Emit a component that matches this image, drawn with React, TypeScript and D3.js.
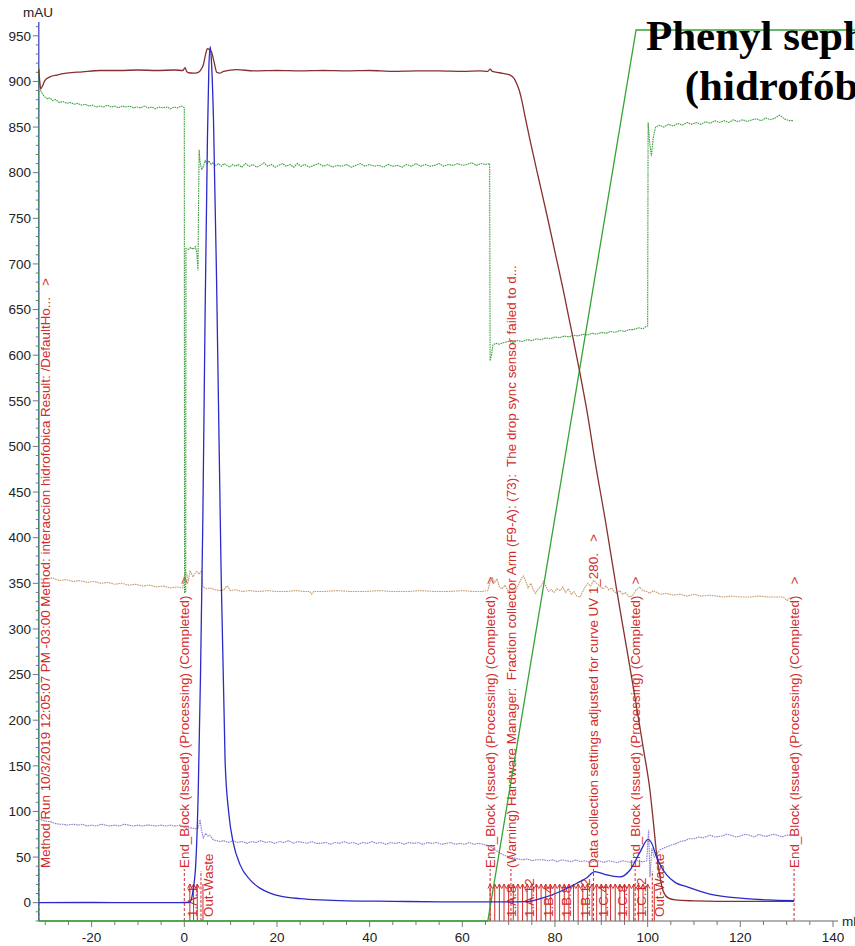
import React from 'react';
import * as d3 from 'd3';

type Pt = [number, number];

// Axis labels
const X_TICK_LABELS = [-20, 0, 20, 40, 60, 80, 100, 120, 140];
const Y_TICK_LABELS = [0, 50, 100, 150, 200, 250, 300, 350, 400, 450, 500, 550, 600, 650, 700, 750, 800, 850, 900, 950];

// UV 1_280 absorbance (mAU)
const uvCurve: Pt[] = [
  [-31.4, 0], [-20, 0.2], [-10, 0.1], [0, 0.2], [1.2, 0.4], [1.9, 14], [2.5, 45], [3.0, 120], [3.5, 250],
  [4.0, 420], [4.5, 650], [5.0, 840], [5.3, 915], [5.6, 938], [5.9, 918], [6.3, 858], [7.0, 671], [7.9, 376],
  [8.8, 156], [9.6, 98], [10.6, 65], [12, 42], [14.2, 25], [16.3, 16], [18.5, 10.6], [21, 7], [25, 4.5],
  [29.3, 3], [35, 2], [45, 1.5], [55, 1], [66, 0.8], [70, 0.8], [73.9, 1.1], [77.4, 5.2], [81, 12],
  [84.7, 21.3], [86.8, 27], [88.6, 34], [89.6, 33], [91.2, 30.4], [94, 28.2], [96.2, 35.8], [98.4, 55.9],
  [100.1, 69.5], [100.8, 66], [101.9, 50.4], [104.1, 30.4], [106, 22], [108.4, 17.5], [113.4, 9.5],
  [120.6, 4.8], [126, 3], [131.6, 2.2],
];

// Conductivity trace
const condCurve: Pt[] = [
  [-31.4, 913], [-31.2, 900], [-31.0, 892], [-30.6, 895], [-30.1, 901], [-29, 905], [-27.5, 907], [-25.4, 909],
  [-22, 910.5], [-18.2, 912], [-14, 912], [-10, 912.5], [-6, 912], [-2, 912.5], [-0.3, 912], [0.15, 915],
  [0.5, 911], [0.9, 909.5], [2, 909], [3, 910], [3.6, 913], [4.1, 918], [4.6, 930], [5.0, 936], [5.4, 935],
  [5.9, 932], [6.4, 922], [7.0, 910], [7.6, 909], [8.5, 911], [11.3, 913], [15, 911.5], [20, 912], [25, 911.5],
  [30, 912], [35, 911.5], [40, 912], [45, 911], [50, 911.5], [55, 911.5], [60, 911], [63.8, 911.5], [65.5, 911],
  [66, 913.5], [66.5, 911], [68, 909.5], [70.3, 907], [71.2, 903], [71.7, 898], [72.3, 890], [72.8, 880],
  [73.6, 860], [74.6, 836], [76.4, 795], [78.2, 755], [80, 713], [81.8, 671], [83.6, 626], [85.4, 580],
  [87, 536], [88.6, 485], [91, 415], [93.3, 343], [95.5, 278], [97.6, 215], [99.1, 168], [100.5, 123],
  [101.2, 90], [101.9, 55], [102.6, 30], [103.4, 12], [104.5, 5], [106, 3], [110, 2], [115, 1.5], [125, 1.5],
  [131.6, 1.5],
];

// Concentration of eluent B (%)
const concB: Pt[] = [[-31.4, 0], [65.5, 0], [97.5, 100], [145, 100]];

// System pressure trace (green, dotted)
const pressureCurve: Pt[] = [
  [-31.4, -20], [-31.4, 915], [-31.2, 897], [-31.0, 890], [-30.6, 886], [-30.1, 883], [-29.5, 881], [-29, 882],
  [-28.4, 879], [-27.8, 880], [-27, 877], [-26.2, 878], [-25.4, 876], [-24.6, 877], [-23.8, 875], [-23, 876],
  [-22.2, 874], [-21.4, 875], [-20.6, 873], [-19.8, 874], [-19, 872], [-18.2, 873], [-17.4, 872], [-16.6, 874],
  [-15.8, 872], [-15, 873], [-14.2, 871], [-13.4, 873], [-12.6, 872], [-11.8, 873], [-11, 871], [-10.2, 872],
  [-9.4, 871], [-8.6, 873], [-7.8, 871], [-7, 872], [-6.2, 870], [-5.4, 872], [-4.6, 871], [-3.8, 872],
  [-3, 870], [-2.2, 872], [-1.4, 871], [-0.6, 873], [-0.2, 872], [0, 871], [0.05, 340], [0.3, 340],
  [0.35, 717], [0.9, 716], [1.4, 718], [1.9, 716], [2.4, 719], [2.7, 712], [2.95, 693], [3.1, 780], [3.2, 825],
  [3.4, 812], [3.75, 803], [4.1, 807], [4.5, 813], [4.9, 810], [5.3, 813], [5.8, 809], [6.2, 811], [6.8, 808],
  [7.4, 810], [8, 807], [8.6, 810], [9.2, 808], [9.8, 806], [10.4, 809], [11, 807], [11.6, 809], [12.4, 806],
  [13.2, 810], [14, 807], [14.8, 809], [15.6, 806], [16.4, 808], [17.2, 811], [18, 807], [18.8, 809],
  [19.6, 806], [20.4, 808], [21.2, 810], [22, 807], [22.8, 809], [23.6, 806], [24.4, 810], [25.2, 807],
  [26, 809], [27, 806], [28, 808], [29, 810], [30, 807], [31, 809], [32, 806], [33, 808], [34, 807], [35, 809],
  [36, 806], [37, 808], [38, 810], [39, 807], [40, 809], [41, 807], [42, 808], [43, 806], [44, 809], [45, 807],
  [46, 808], [47, 806], [48, 809], [49, 807], [50, 810], [51, 807], [52, 809], [53, 807], [54, 808], [55, 810],
  [56, 807], [57, 809], [58, 808], [59, 810], [60, 808], [61, 809], [62, 811], [63, 808], [64, 810], [65, 809],
  [65.9, 810], [66.0, 594], [66.3, 600], [66.6, 611], [67.2, 613], [68, 612], [69, 614], [70, 615], [71, 614],
  [72, 616], [73, 615], [74, 617], [75, 616], [76, 618], [77, 617], [78, 619], [79, 618], [80, 620], [81, 619],
  [82, 621], [83, 620], [84, 622], [85, 621], [86, 623], [87, 622], [88, 624], [89, 623], [90, 625], [91, 624],
  [92, 626], [93, 625], [94, 627], [95, 626], [96, 628], [97, 628], [98, 630], [99, 629], [99.8, 632],
  [100.0, 632], [100.1, 855], [100.4, 835], [100.8, 818], [101.2, 838], [101.7, 850], [102.5, 852],
  [103.5, 850], [104.5, 853], [105.5, 851], [106.5, 854], [107.5, 852], [108.5, 855], [109.5, 853],
  [110.5, 855], [111.5, 853], [112.5, 856], [113.5, 854], [114.5, 857], [115.5, 855], [116.5, 857],
  [117.5, 855], [118.5, 858], [119.5, 856], [120.5, 858], [121.5, 856], [122.5, 858], [123.5, 859],
  [124.5, 857], [125.5, 860], [126.5, 858], [127.5, 860], [128.5, 863], [129.5, 859], [130.5, 857],
  [131.4, 857],
];

// Temperature trace (tan, dotted)
const tempCurve: Pt[] = [
  [-31.4, 355], [-30, 354], [-28.5, 356], [-27, 353], [-25.5, 354], [-24, 352], [-22.5, 353], [-21, 351],
  [-19.5, 352], [-18, 350], [-16.5, 351], [-15, 349], [-13.5, 350], [-12, 348], [-10.5, 349], [-9, 347],
  [-7.5, 348], [-6, 346], [-4.5, 347], [-3.1, 345], [-1.5, 346], [-0.3, 345], [0, 358], [0.3, 362], [0.5, 361],
  [0.9, 352], [1.2, 364], [1.6, 360], [1.9, 357], [2.3, 361], [2.7, 363], [3.2, 360], [3.75, 364], [4.0, 346],
  [4.8, 344], [5.6, 345], [6.5, 343], [7.7, 342], [8.6, 343], [9.1, 347], [9.5, 346], [9.9, 342], [11, 343],
  [12.5, 341], [14, 342], [16, 341], [18, 342], [20, 341], [22, 341], [24, 342], [26, 341], [27.1, 341],
  [27.5, 338], [27.9, 341], [30, 341], [33, 342], [36, 341], [39, 341], [42, 342], [45, 341], [48, 341],
  [51, 342], [54, 341], [57, 341], [60, 342], [62.5, 341], [64, 341], [65.5, 342], [66, 352], [66.5, 356],
  [67, 351], [67.5, 355], [68, 346], [68.6, 344], [69.2, 348], [69.8, 342], [70.4, 344], [71, 341], [71.6, 343],
  [72.2, 349], [72.7, 355], [73.2, 358], [73.7, 352], [74.2, 345], [74.8, 350], [75.3, 343], [75.8, 339],
  [76.4, 344], [77, 347], [77.5, 352], [78, 347], [78.6, 341], [79.2, 343], [79.8, 340], [80.4, 344],
  [81.1, 342], [81.7, 346], [82.3, 340], [82.9, 344], [83.5, 338], [84.1, 341], [84.7, 336], [85.4, 335],
  [85.9, 340], [86.5, 346], [87.1, 350], [87.7, 347], [88.3, 353], [89, 350], [89.6, 347], [90.4, 344],
  [91, 347], [91.6, 343], [92.2, 345], [92.8, 341], [93.3, 339], [94, 342], [94.6, 338], [95.2, 340],
  [95.8, 336], [96.2, 335], [96.8, 337], [97.4, 342], [98.3, 346], [98.9, 342], [99.8, 341], [100.5, 339],
  [101.2, 342], [102, 340], [102.7, 338], [104, 339], [105.5, 337], [107, 338], [108.5, 336], [110, 338],
  [111.5, 336], [113.4, 337], [115, 336], [116.2, 335], [118, 336], [120, 335], [122, 335], [124, 336],
  [126, 335], [128, 335], [129.2, 335], [130.1, 331], [130.6, 334], [131.4, 335],
];

// pH trace (purple, dotted)
const phCurve: Pt[] = [
  [-31.4, 92], [-30.5, 90], [-29.5, 89], [-29, 89], [-28, 87], [-27, 86], [-26, 86], [-25.4, 85], [-24, 86],
  [-23, 85], [-22, 86], [-21, 84], [-20, 85], [-19, 84], [-18, 86], [-17, 85], [-16, 84], [-15, 85], [-14, 84],
  [-13, 86], [-12, 85], [-11, 84], [-10, 85], [-9, 84], [-8, 85], [-7.4, 85], [-6, 84], [-5, 85], [-4, 84],
  [-3, 85], [-2, 84], [-0.9, 85], [-0.3, 83], [0.5, 82], [1.5, 82], [2.5, 81], [3.0, 82], [3.4, 91], [3.7, 80],
  [4.1, 71], [4.6, 76], [5.1, 73], [5.5, 74], [6.2, 69], [7, 68], [7.7, 67], [8.5, 68], [9.5, 66], [10.5, 68],
  [11.5, 66], [12.5, 67], [13.5, 65], [14.5, 67], [15.5, 66], [16.5, 68], [17.5, 66], [18.5, 67], [19.5, 65],
  [20.5, 67], [21.5, 66], [22.5, 68], [23.5, 65], [24.5, 67], [25.5, 66], [26.5, 65], [27.5, 67], [28.5, 65],
  [29.3, 65], [30.5, 66], [31.5, 64], [32.5, 66], [33.5, 65], [34.5, 67], [35.5, 65], [36.5, 66], [37.5, 64],
  [38.5, 66], [39.5, 65], [40.5, 67], [41.5, 65], [42.5, 66], [43.5, 64], [44.5, 66], [45.5, 65], [46.5, 66],
  [47.5, 64], [48.5, 66], [49.5, 65], [50.5, 66], [51.5, 64], [52.5, 66], [53.5, 65], [54.5, 66], [55.5, 64],
  [56.5, 65], [57.5, 66], [58.5, 64], [59.5, 65], [60.5, 64], [61.5, 66], [62.5, 64], [63.5, 65], [65.3, 63],
  [66, 62], [67, 58], [68, 55], [69, 52], [70.3, 50], [71.3, 49], [72, 48], [73, 47], [74, 48], [75, 46],
  [76, 47], [77.4, 47], [78.5, 46], [79.5, 47], [80.5, 45], [81.5, 47], [82.5, 46], [83.5, 45], [84.5, 47],
  [85.5, 45], [86.5, 46], [87.5, 44], [88.2, 45], [89.5, 46], [90.5, 44], [91.5, 46], [92.5, 45], [93.5, 44],
  [94.5, 46], [95.5, 45], [96.5, 44], [97.5, 46], [98.5, 45], [99, 45], [99.8, 46], [100.2, 80], [100.5, 28],
  [100.9, 60], [101.4, 50], [102.7, 58], [104, 61], [105, 63], [106.3, 65], [107, 67], [108, 68], [109, 70],
  [110, 70], [111, 72], [112, 71], [113.4, 74], [114.5, 72], [116, 73], [117, 75], [118, 74], [119, 72],
  [120, 73], [121, 75], [122, 74], [123, 72], [124, 75], [125, 73], [126, 73], [127, 75], [128, 74], [129, 72],
  [130, 74], [131.4, 74],
];

// Run log events
const runEvents = [
  { ml: -31.4, text: 'Method Run 10/3/2019 12:05:07 PM -03:00 Method: interaccion hidrofobica Result: /DefaultHo...', more: true },
  { ml: 0, text: 'End_Block (Issued) (Processing) (Completed)', more: true },
  { ml: 66, text: 'End_Block (Issued) (Processing) (Completed)', more: true },
  { ml: 70.5, text: '(Warning) Hardware Manager:  Fraction collector Arm (F9-A): (73):  The drop sync sensor failed to d...', more: false },
  { ml: 88.3, text: 'Data collection settings adjusted for curve UV 1_280.', more: true },
  { ml: 97.3, text: 'End_Block (Issued) (Processing) (Completed)', more: true },
  { ml: 131.6, text: 'End_Block (Issued) (Processing) (Completed)', more: true },
];

// Fraction collection marks
const fractionStarts = [
  1.2, 2.0, 2.8,
  66, 67, 68, 69, 70, 71, 72, 73, 74,
  75, 76, 77, 78, 79, 80, 81, 82, 83, 84, 85, 86,
  87, 88, 89, 90, 91, 92, 93, 94, 95, 96, 97, 98,
  99, 100,
];
const fractionNames = [
  '1.A.1', '1.A.2', '1.A.3',
  '1.A.4', '1.A.5', '1.A.6', '1.A.7', '1.A.8', '1.A.9', '1.A.10', '1.A.11', '1.A.12',
  '1.B.1', '1.B.2', '1.B.3', '1.B.4', '1.B.5', '1.B.6', '1.B.7', '1.B.8', '1.B.9', '1.B.10', '1.B.11', '1.B.12',
  '1.C.1', '1.C.2', '1.C.3', '1.C.4', '1.C.5', '1.C.6', '1.C.7', '1.C.8', '1.C.9', '1.C.10', '1.C.11', '1.C.12',
  '1.D.1', '1.D.2',
];
const labelledFractions = ['1.A.1', '1.A.8', '1.A.12', '1.B.4', '1.B.8', '1.B.12', '1.C.4', '1.C.8', '1.C.12'];
const wasteMarks = [3.6, 101.0];

const TITLE_LINES = ['Phenyl sepharose', '(hidrofóbica)'];

const W = 855;
const H = 946;
const X_MIN = -31.4;
const X_MAX = 141.1;
const AXIS_BOTTOM = 921;
const AXIS_TOP = 22;

const SANS = '"Liberation Sans", Arial, Helvetica, sans-serif';
const RED = '#d22b2b';

export default function App() {
  const x = d3.scaleLinear().domain([0, 140]).range([184.3, 833]);
  const y = d3.scaleLinear().domain([0, 950]).range([902.7, 35.8]);
  const yConc = d3.scaleLinear().domain([0, 100]).range([AXIS_BOTTOM, 30]);

  const line = d3.line<Pt>().x((d) => x(d[0])).y((d) => y(d[1]));
  const smooth = d3.line<Pt>().x((d) => x(d[0])).y((d) => y(d[1])).curve(d3.curveMonotoneX);
  const concLine = d3.line<Pt>().x((d) => x(d[0])).y((d) => yConc(d[1]));

  const x0 = x(X_MIN);
  const x1 = x(X_MAX);
  const yMinorTicks = d3.range(-20, 961, 10).filter((v) => y(v) >= AXIS_TOP && y(v) <= AXIS_BOTTOM);
  const xMinorTicks = d3.range(-30, 141, 5);

  return (
    <svg
      width={W}
      height={H}
      viewBox={`0 0 ${W} ${H}`}
      style={{ position: 'absolute', left: 0, top: 0, background: '#fff' }}
    >
      <rect x={0} y={0} width={W} height={H} fill="#fff" />

      {/* run log events */}
      {runEvents.map((ev, i) => {
        const lx = x(ev.ml);
        const tx = Math.max(lx, x0 + 6.6);
        return (
          <g key={`ev${i}`}>
            <line x1={lx} x2={lx} y1={AXIS_BOTTOM} y2={869} stroke={RED} strokeWidth={1} strokeDasharray="3,2" />
            <g transform={`translate(${tx},868) rotate(-90)`}>
              <text
                dy="0.36em"
                fontFamily={SANS}
                fontSize={13.4}
                fill={RED}
                style={{ whiteSpace: 'pre' }}
              >
                {ev.text + (ev.more ? '   >' : '')}
              </text>
            </g>
          </g>
        );
      })}

      {/* fractions */}
      {fractionStarts.map((f, i) => {
        const fx = x(f);
        const name = fractionNames[i];
        const next = fractionStarts[i + 1];
        const width = next !== undefined && next - f < 1.5 ? x(next) - fx : x(f + 1) - fx;
        return (
          <g key={`fr${i}`}>
            <line x1={fx} x2={fx} y1={AXIS_BOTTOM} y2={884} stroke={RED} strokeWidth={1} />
            <path d={`M${fx - 2.2},888.5 L${fx},884 L${fx + 2.2},888.5`} fill="none" stroke={RED} strokeWidth={1} />
            {labelledFractions.includes(name) && (
              <g transform={`translate(${fx + width / 2},917) rotate(-90)`}>
                <text dy="0.36em" fontFamily={SANS} fontSize={13.4} fill={RED}>
                  {name}
                </text>
              </g>
            )}
          </g>
        );
      })}
      {wasteMarks.map((w, i) => {
        const wx = x(w);
        return (
          <g key={`w${i}`}>
            <line x1={wx} x2={wx} y1={AXIS_BOTTOM} y2={871} stroke={RED} strokeWidth={1} strokeDasharray="3,1.5" />
            <line x1={wx + 2} x2={wx + 2} y1={AXIS_BOTTOM} y2={884} stroke={RED} strokeWidth={1} />
            <g transform={`translate(${wx + 7},917) rotate(-90)`}>
              <text dy="0.36em" fontFamily={SANS} fontSize={13.4} fill={RED}>
                Out-Waste
              </text>
            </g>
          </g>
        );
      })}

      {/* axes */}
      <g>
        <line x1={x0} x2={x1} y1={AXIS_BOTTOM} y2={AXIS_BOTTOM} stroke="#666" strokeWidth={1} />
        {xMinorTicks.map((t) => (
          <line
            key={`xt${t}`}
            x1={x(t)}
            x2={x(t)}
            y1={AXIS_BOTTOM}
            y2={AXIS_BOTTOM + (t % 20 === 0 ? 6 : 4)}
            stroke="#777"
            strokeWidth={1}
          />
        ))}
        {X_TICK_LABELS.map((t) => (
          <text key={`xl${t}`} x={x(t)} y={941.5} textAnchor="middle" fontFamily={SANS} fontSize={13.5} fill="#222">
            {t}
          </text>
        ))}
        <text x={842} y={926} fontFamily={SANS} fontSize={13.5} fill="#222">
          ml
        </text>

        <line x1={x0} x2={x0} y1={AXIS_BOTTOM} y2={AXIS_TOP} stroke="#3434c8" strokeWidth={1.2} />
        {yMinorTicks.map((t) => (
          <line
            key={`yt${t}`}
            x1={x0}
            x2={x0 - (t % 50 === 0 ? 6 : 3)}
            y1={y(t)}
            y2={y(t)}
            stroke="#777"
            strokeWidth={1}
          />
        ))}
        {Y_TICK_LABELS.map((t) => (
          <text key={`yl${t}`} x={31} y={y(t)} dy="0.35em" textAnchor="end" fontFamily={SANS} fontSize={13.5} fill="#222">
            {t}
          </text>
        ))}
        <text x={23} y={17} fontFamily={SANS} fontSize={13.5} fill="#222">
          mAU
        </text>
      </g>

      {/* curves */}
      <path d={line(tempCurve) ?? ''} fill="none" stroke="#c49c70" strokeWidth={1.1} strokeDasharray="1.6,0.8" />
      <path d={line(phCurve) ?? ''} fill="none" stroke="#8c7ccc" strokeWidth={1.1} strokeDasharray="1.6,0.8" />
      <path d={line(pressureCurve) ?? ''} fill="none" stroke="#3f9f3f" strokeWidth={1.1} strokeDasharray="1.6,0.8" />
      <path d={concLine(concB) ?? ''} fill="none" stroke="#33a533" strokeWidth={1.3} />
      <path d={smooth(condCurve) ?? ''} fill="none" stroke="#86302f" strokeWidth={1.3} />
      <path d={smooth(uvCurve) ?? ''} fill="none" stroke="#2a2ac8" strokeWidth={1.3} />

      {/* title */}
      {TITLE_LINES.map((t, i) => (
        <text
          key={`title${i}`}
          x={805}
          y={50 + i * 50}
          textAnchor="middle"
          fontFamily='"Liberation Serif", "Times New Roman", Times, serif'
          fontWeight="bold"
          fontSize={43}
          fill="#000"
        >
          {t}
        </text>
      ))}
    </svg>
  );
}
